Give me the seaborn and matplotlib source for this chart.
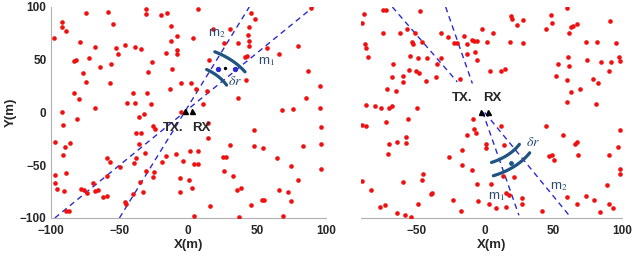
import numpy as np
import matplotlib
matplotlib.use("Agg")
import matplotlib.pyplot as plt
import seaborn as sns

sns.set_style("white")
plt.rcParams['font.family'] = ['Liberation Sans', 'DejaVu Sans']
plt.rcParams['mathtext.fontset'] = 'stix'

RED = '#f01010'
BEAM = '#2a2ad0'
ARC = '#1d5482'
LBL = '#2a4a72'

# scatterers, left scene
left_x = [-31, -31, 7, -58, -74, -20, -15.5, 46, 48.6, 89, -92, -91.5, -88.6, -97.6, -54.7,
          -12.7, -8.3, -12.4, 3.6, 18.3, 30.3, 44.4, 43.7, 44.2, 26.3, 35.9, 44.2, 79.6, -78.9,
          -67.5, -46.2, -38.4, -34, -52.7, -51, -16.5, -8.5, -8.5, 15.3, 41.3, 43, 57.1, 66.3,
          -83.3, -81.8, -72.1, -56.3, -63.8, -26, -29.2, -12.1, -76.5, -74.6, -57.1, -4.9, 1.7,
          5.6, -12.9, 42, 14, 87.4, 95.9, -83.3, -79.3, -40, -29.9, 36.4, 85.7, -44.4, -38.8,
          -27.2, 10.9, -67.5, -32, -35.7, -91.5, -91, 95.9, 96.4, 68, 76, -80.8, -25.4, 14.6,
          47.8, -37.7, -34, -23.8, 14.6, -97.1, -85.7, -89.3, -35.9, -31.5, -91, 30.4, 47.8,
          54.2, 83.3, 96.6, 1.2, 7.3, -9, -15.8, 25, 27.4, -59.4, -57.1, -37.7, -39.5, -18.9,
          -3.6, 4.4, 7.3, 64.8, 74.6, 96.6, -97.1, -89.1, -49.3, -59.4, -31, -25, 26.3, 32.8,
          -25.5, -6, 0.7, -34.9, -69.2, -97.1, -95.5, -90.3, -77.7, -76, -73.6, -68, -65.6,
          -32.8, -40.5, -6, 3.1, 35.7, 38.1, 66.3, 79.6, 72.8, -61.9, -59.4, -46.2, -44.9, 45.4,
          53.4, 55.3, 74.8, 15.8, -88.6, -86.9, 4.4, 36.9, 69.2, -5.5]
left_y = [98, 93.5, 98, 95, 94, 92, 94, 94.5, 89, 99.5, 86, 80.6, 77.4, 70.8, 83.7,
          82, 72.7, 68.2, 71, 78.7, 79, 81.2, 73.3, 67.6, 65.4, 65.4, 63.2, 62.9, 67,
          62.2, 63.8, 62.2, 60, 60.7, 55, 56.6, 59, 55, 50.2, 52.8, 53.4, 61.6, 55,
          48.7, 49.6, 51.2, 46.4, 42.7, 48, 38, 40.8, 37.6, 29, 28, 27.5, 28,
          22.7, 22.7, 30.6, 20.5, 39.5, 25, 18.6, 12.6, 18, 18, 13.9, 13.9, 9.2, 9.2,
          8.5, 8.5, 3.8, -1, -4, 0.6, -11.4, 4.7, -14.2, 2.2, 3.2, -5.7, -13, -9.5,
          -16.7, -19.9, -19.9, -16, -24, -27.8, -28.8, -32.5, -29.4, -38.2, -40.4, -31, -31.6,
          -33.5, -31.6, -30.3, -36.3, -36.3, -38.9, -41.4, -42, -42, -42.7, -46.8, -43.6, -48.3, -46.8,
          -46.1, -49.3, -49.3, -43, -50.9, -54, -59.4, -57.8, -51.5, -60, -55.3, -56.2, -55.3, -60,
          -61, -62, -64, -65.7, -66.4, -66.4, -72.7, -74.2, -72.7, -73.6, -76.1, -74.2, -73.6,
          -75.8, -76.8, -75.2, -72, -73.6, -72, -73, -64, -75, -80, -79.3, -84.7, -87, -88,
          -83, -83, -83.7, -88.5, -93.5, -93, -98, -99.5, -98, 0.3]

# scatterers, right scene
right_x = [-74, -72.3, -47.2, -88, -89.8, -74.2, -62, -56.4, -51, -52.8, -52.3, -46, -31.6,
           -26.5, -22.4, -20, -15.1, -12.7, -9.5, -7.8, -5.4, -2.2, 1.9, 6.3, 18.5, 19.5, 20.2,
           23.8, 28, 28.2, 45, 48.2, 48.9, 60.3, 61.6, 63.3, 64.7, 67.6, 91.5, 73.7, 82.2, 95.6,
           -87.3, -86.9, -85.2, -54.5, -48.7, -41.8, -34.5, -32.1, -66.7, -55.5, -50.5, -48.2,
           -43.1, -35.8, -67.9, -59.4, -59.4, -71, -65, -18, -12.7, -7, -5.4, 3.9, 11.7, 14.8,
           60.8, 61.6, 53.3, 52, 60.3, 63.3, 69.6, 79.3, 83, 74.9, 84.9, 92.2, 98, 99, 90.8,
           -86.4, -80.3, -75.9, -69.8, -67.4, -49.1, -89.3, -86.9, -72.3, -56, -8.5, 60.3, 81,
           -7.8, -12.7, -6.6, 11.7, 1.2, 0.7, 14.1, -16.8, -25.8, -16.3, -9, -5.4, 4.9, 13.6,
           21.4, 45, 57.4, 65.7, 67.2, 47, 48.9, 50.6, 68.4, 90.8, 99, 97.6, 99, 99, 89,
           -70.6, -69.8, -64.2, -57.2, -57.2, -89.8, -83.2, -59.4, -45, -46, -39.4, -38.2,
           -72.7, -76.6, -48.4, -22.9, -17.5, -63.7, -58.2, -53.5, -4.9, 3.2, 8, 15.3, 15.3,
           17.8, 27, 27.5, 42.1, 60.3, 67.6, 73.7, 79.8, 84.2, 90.8, 93.9]
right_y = [97.6, 97.6, 96.4, 93.2, 85, 74.9, 75.8, 79.6, 74.9, 67, 64.5, 67, 75.8,
           71.1, 66, 66, 72.4, 64.8, 68.6, 67.6, 68, 79.6, 67, 74.9, 67, 91.3, 89,
           83.4, 87.5, 66, 79, 92.3, 84.4, 98.6, 74.9, 80.6, 81.8, 83.7, 86.9, 67, 66.4, 65.4,
           64.5, 61.6, 52.8, 53.7, 51.2, 51.2, 45.5, 51.2, 46.4, 40.1, 39.2, 37.9,
           29.7, 33.8, 33.8, 34.4, 29, 21.8, 20.5, 31.6, 55, 57.5, 49.6, 39.5, 39.2, 40.8,
           52.8, 43.9, 46.4, 34.4, 30.6, 19.6, 21.8, 31.3, 28.1, 49.6, 48, 48, 52.8, 48.7, 39.2,
           7, 6, 4.7, 4.7, 6, 3.8, -12, -12.6, -8.8, -5.7, -5.7, 10.1, 7.6,
           -15.2, -21.5, -19.9, -12.6, -30, -34.1, -31, -35.7, -42, -49.9, -54.7, -68, -68.2, -60.3,
           -61, -13, -20.9, -30, -27.8, -41.4, -40.4, -45.2, -40.4, -40.4, -16.7, -32.5, -53.7, -58.5, -68.9,
           -39.8, -30, -27.8, -23.7, -28.8, -65, -73, -65.7, -58.5, -64.1, -76.8, -76.1,
           -87.8, -90, -86.3, -83, -93.5, -95.7, -97.3, -99.5, -84, -87.2, -91, -89.4, -76.1,
           -78.4, -80.9, -86.3, -93.2, -80, -86.3, -79.3, -83, -94.2, -86.9, -91]

# beam lines (start, end)
left_beams = [((-97, -100), (91, 100)), ((-50, -100), (44.4, 100))]
right_beams = [((-67.4, 100), (-20, 29)), ((-28.5, 100), (-9, 27.5)),
               ((-1.5, 0.5), (25, -97.5)), ((0, 0), (61.6, -97.5))]

# arcs: r_start, r_end, angle_start, angle_end (deg)
left_arcs = [(60.7, 56.5, 71.4, 43), (42.9, 38.1, 71.8, 42.9)]
right_arcs = [(47.6, 39.4, -84, -50), (60.3, 50.4, -84, -49.3)]

left_targets = ([21.6, 34], [41, 41])
right_targets = ([19.5], [-48.3])


def arc_xy(r1, r2, t1, t2):
    t = np.radians(np.linspace(t1, t2, 60))
    r = np.linspace(r1, r2, 60)
    return r * np.cos(t), r * np.sin(t)


def draw_scene(ax, xs, ys, beams, arcs, tx, rx, tri_y):
    for (x0, y0), (x1, y1) in beams:
        ax.plot([x0, x1], [y0, y1], color=BEAM, lw=1.0, ls=(0, (4, 3)), zorder=2)
    sns.scatterplot(x=xs, y=ys, ax=ax, color=RED, s=11, linewidth=0, zorder=3)
    for a in arcs:
        ax_, ay_ = arc_xy(*a)
        ax.plot(ax_, ay_, color=ARC, lw=2.3, solid_capstyle='round', zorder=4)
    ax.plot([-2.5, 2.5], [tri_y, tri_y], ls='none', marker='^', ms=3.6, color='black', zorder=5)
    ax.text(tx[0], tx[1], 'TX.', fontsize=9.5, fontweight='bold', ha='center', va='center')
    ax.text(rx[0], rx[1], 'RX', fontsize=9.5, fontweight='bold', ha='center', va='center')


fig = plt.figure(figsize=(6.4, 2.57), dpi=100)
ax1 = fig.add_axes([0.0792, 0.1518, 0.4297, 0.821])
ax2 = fig.add_axes([0.5636, 0.1518, 0.4078, 0.821])

draw_scene(ax1, left_x, left_y, left_beams, left_arcs, (-11, -14.5), (9.8, -14.5), 1)
ax1.scatter(*left_targets, color=BEAM, s=8, zorder=5)
ax1.scatter([26.5], [42.5], color='black', s=2, zorder=5)
ax1.text(20.5, 75, 'm$_2$', color=LBL, fontsize=9.5, ha='center', va='center')
ax1.text(57, 48, 'm$_1$', color=LBL, fontsize=9.5, ha='center', va='center')
ax1.text(34, 29.5, r'$\delta r$', color=LBL, fontsize=10, ha='center', va='center')

draw_scene(ax2, right_x, right_y, right_beams, right_arcs, (-16.3, 14.2), (5.6, 14.2), 0.5)
ax2.scatter(*right_targets, color=ARC, s=6, zorder=5)
ax2.text(35, -27.5, r'$\delta r$', color=LBL, fontsize=10, ha='center', va='center')
ax2.text(8.8, -80, 'm$_1$', color=LBL, fontsize=9.5, ha='center', va='center')
ax2.text(54.3, -70.5, 'm$_2$', color=LBL, fontsize=9.5, ha='center', va='center')

for ax in (ax1, ax2):
    ax.set_ylim(-100, 100)
    for s in ('top', 'right'):
        ax.spines[s].set_visible(False)
    for s in ('left', 'bottom'):
        ax.spines[s].set_color('#b0b0b0')
        ax.spines[s].set_linewidth(0.8)
    ax.tick_params(direction='in', length=3, width=0.6, color='#909090',
                   labelsize=8.5, pad=3)
    ax.tick_params(axis='x', pad=5)
    ax.set_xlabel('X(m)', fontsize=9.5, fontweight='bold', labelpad=1.5)

ax1.set_xlim(-100, 100)
ax1.set_xticks([-100, -50, 0, 50, 100])
ax1.set_yticks([-100, -50, 0, 50, 100])
ax1.set_ylabel('Y(m)', fontsize=9.5, fontweight='bold', labelpad=2)

ax2.set_xlim(-90.5, 100)
ax2.set_xticks([-50, 0, 50, 100])
ax2.spines['left'].set_visible(False)
ax2.set_yticks([])
ax2.set_ylabel('')

for ax in (ax1, ax2):
    for lab in ax.get_xticklabels() + ax.get_yticklabels():
        lab.set_fontweight('bold')

fig.savefig('out.png', dpi=100)
